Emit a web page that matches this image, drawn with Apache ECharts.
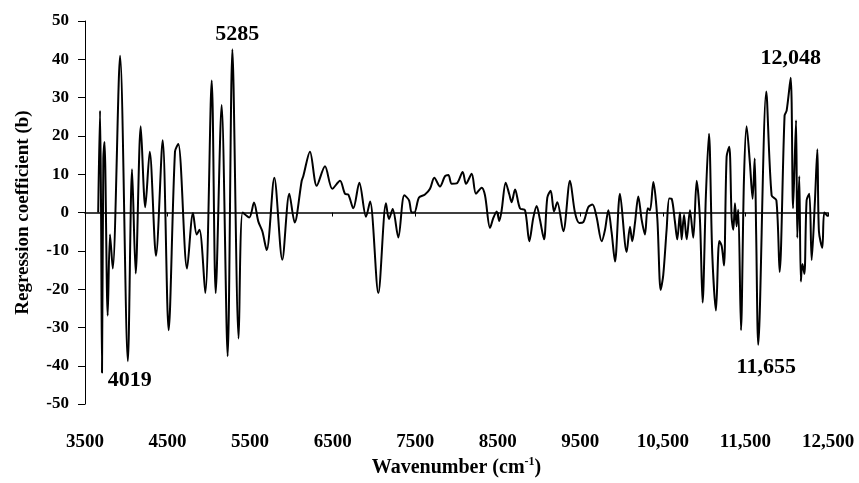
<!DOCTYPE html>
<html>
<head>
<meta charset="utf-8">
<script src="https://cdn.jsdelivr.net/npm/echarts@6/dist/echarts.min.js"></script>
<style>
html, body { margin: 0; padding: 0; background: #fff; }
#chart { width: 859px; height: 483px; }
</style>
</head>
<body>
<div id="chart"></div>
<script>
// wavenumber (cm-1) and regression coefficient
var wavenumbers = [
    3660, 3682, 3695, 3706, 3722, 3736, 3775, 3803, 3836, 3925,
    4019, 4070, 4114, 4175, 4230, 4284, 4360, 4441, 4513, 4590,
    4630, 4736, 4808, 4853, 4887, 4957, 5035, 5083, 5155, 5228,
    5285, 5361, 5410, 5490, 5547, 5599, 5648, 5701, 5793, 5890,
    5975, 6040, 6125, 6144, 6225, 6307, 6407, 6496, 6589, 6649,
    6689, 6750, 6823, 6904, 6953, 7053, 7146, 7182, 7227, 7295,
    7368, 7425, 7457, 7489, 7546, 7618, 7679, 7731, 7800, 7861,
    7901, 7942, 8002, 8075, 8115, 8184, 8236, 8305, 8345, 8406,
    8446, 8487, 8518, 8547, 8596, 8640, 8668, 8709, 8769, 8830,
    8882, 8930, 8971, 9011, 9060, 9100, 9141, 9181, 9221, 9294,
    9375, 9435, 9487, 9536, 9596, 9647, 9696, 9759, 9799, 9839,
    9879, 9920, 9980, 10061, 10101, 10129, 10162, 10202, 10243, 10283,
    10316, 10344, 10384, 10432, 10473, 10504, 10545, 10577, 10606, 10646,
    10674, 10707, 10727, 10756, 10788, 10828, 10868, 10909, 10949, 10981,
    11021, 11058, 11098, 11143, 11183, 11212, 11240, 11272, 11304, 11333,
    11353, 11373, 11393, 11413, 11446, 11482, 11514, 11554, 11587, 11612,
    11630, 11655, 11752, 11817, 11875, 11914, 11974, 11999, 12048, 12077,
    12113, 12128, 12152, 12171, 12190, 12214, 12241, 12274, 12302, 12342,
    12371, 12390, 12431, 12455, 12500
];
var coefficients = [
    0, 26.6, -1, -41.8, 14.1, 18.4, -26.9, -5.7, -14.6, 40.9,
    -38.8, 11.3, -15.9, 22.5, 1.4, 15.9, -11.3, 18.9, -30.7, 15.9,
    17.9, -14.6, -0.1, -5.7, -4.5, -21, 34.5, -21, 28.1, -37.5,
    42.6, -32.9, 0, -1.3, 2.6, -2.3, -4.9, -9.8, 9.1, -12.3,
    4.9, -2.6, 8.3, 9.5, 15.9, 7.0, 12.1, 6.2, 8.3, 4.9,
    4.7, 1.1, 7.8, -1.1, 2.9, -21, 2.4, -1.7, 0.9, -6.5,
    4.5, 3.2, 0, 0, 3.9, 4.7, 6.2, 9.1, 6.8, 9.5,
    9.8, 7.5, 7.6, 10.6, 7.5, 10.1, 4.9, 6.5, 4.5, -4.0,
    -1.4, 0.3, -2.2, 0.6, 7.8, 4.7, 2.7, 6.0, 1.1, 0.6,
    -7.5, -1.4, 1.7, -1.9, -7.0, 3.9, 5.7, 0.3, 2.7, -4.9,
    8.3, 0, -2.7, -2.5, 1.4, 2.1, -1.1, -7.5, -4.5, 0.6,
    -5.2, -12.8, 4.9, -10.3, -3.7, -7.5, -2.7, 4.2, -1.9, -5.7,
    1.1, 0.6, 8.0, -1.4, -20.2, -16.4, -4.5, 3.7, 3.6, -2.4,
    -7.0, 0, -7, -0.6, -7, 0.6, -6.6, 8.3, -1.9, -23.5,
    4.5, 20.6, -10.8, -25.6, -7.4, -8.7, -13.8, 14.6, 17.2, -1.4,
    -4.5, 2.4, -3.6, 0.7, -30.7, 8.7, 22.5, 12.9, 3.6, 14.1,
    -5.7, -34.5, 31.6, 4.5, 3.2, -15.5, 25.3, 26.6, 35.2, 1.1,
    24.1, -6.6, 9.5, -18, -13.4, -16, 3.2, 4.9, -12.4, 3.2,
    16.5, -4.9, -9.2, 0, -1
];

// labelled peaks
var peakWavenumbers = [4019, 5285, 11655, 12048];
var peakCoefficients = [-38.8, 42.6, -34.5, 35.2];
var peakLabels = ['4019', '5285', '11,655', '12,048'];
var peakOffsets = [[2, 19], [5, -15], [8, 23], [0, -19]];

var xTickLabels = ['3500', '4500', '5500', '6500', '7500', '8500', '9500', '10,500', '11,500', '12,500'];
var xMin = 3500, xMax = 12500, xStep = 1000;
var yMin = -50, yMax = 50, yStep = 10;

var fontName = '"Liberation Serif", "Times New Roman", serif';

var lineData = [];
for (var i = 0; i < wavenumbers.length; i++) {
    lineData.push([wavenumbers[i], coefficients[i]]);
}

var peakData = [];
for (var j = 0; j < peakWavenumbers.length; j++) {
    peakData.push({
        name: peakLabels[j],
        coord: [peakWavenumbers[j], peakCoefficients[j]],
        label: {offset: peakOffsets[j]}
    });
}

var myChart = echarts.init(document.getElementById('chart'));
myChart.setOption({
    animation: false,
    backgroundColor: '#fff',
    grid: {left: 85, right: 31, top: 21, bottom: 69},
    xAxis: [{
        // zero line with ticks
        type: 'value',
        min: xMin, max: xMax, interval: xStep,
        axisLine: {onZero: true, lineStyle: {color: '#000', width: 1.5}},
        axisTick: {show: true, length: 4, lineStyle: {color: '#000'}},
        axisLabel: {show: false},
        splitLine: {show: false}
    }, {
        // labels at the bottom
        type: 'value',
        position: 'bottom',
        min: xMin, max: xMax, interval: xStep,
        axisLine: {show: false, onZero: false},
        axisTick: {show: false},
        splitLine: {show: false},
        axisLabel: {
            margin: 28,
            color: '#000',
            fontFamily: fontName,
            fontWeight: 'bold',
            fontSize: 19,
            formatter: function (v) {
                return xTickLabels[Math.round((v - xMin) / xStep)];
            }
        },
        name: '{t|Wavenumber (cm}{s|-1}{t|)}',
        nameLocation: 'middle',
        nameGap: 51,
        nameTextStyle: {
            rich: {
                t: {fontFamily: fontName, fontWeight: 'bold', fontSize: 20, color: '#000', lineHeight: 24},
                s: {fontFamily: fontName, fontWeight: 'bold', fontSize: 12, color: '#000', lineHeight: 14, verticalAlign: 'top'}
            }
        }
    }],
    yAxis: {
        type: 'value',
        min: yMin, max: yMax, interval: yStep,
        axisLine: {show: true, lineStyle: {color: '#000', width: 1}},
        axisTick: {show: true, length: 7, lineStyle: {color: '#000'}},
        splitLine: {show: false},
        axisLabel: {
            margin: 16,
            color: '#000',
            fontFamily: fontName,
            fontWeight: 'bold',
            fontSize: 17
        },
        name: 'Regression coefficient (b)',
        nameLocation: 'middle',
        nameGap: 52,
        nameTextStyle: {fontFamily: fontName, fontWeight: 'bold', fontSize: 19, color: '#000'}
    },
    series: [{
        type: 'line',
        xAxisIndex: 0,
        data: lineData,
        showSymbol: false,
        smooth: 0.3,
        lineStyle: {color: '#000', width: 2},
        markPoint: {
            symbol: 'circle',
            symbolSize: 0,
            label: {
                show: true,
                position: 'inside',
                formatter: '{b}',
                color: '#000',
                fontFamily: fontName,
                fontWeight: 'bold',
                fontSize: 22
            },
            data: peakData
        }
    }]
});
</script>
</body>
</html>
